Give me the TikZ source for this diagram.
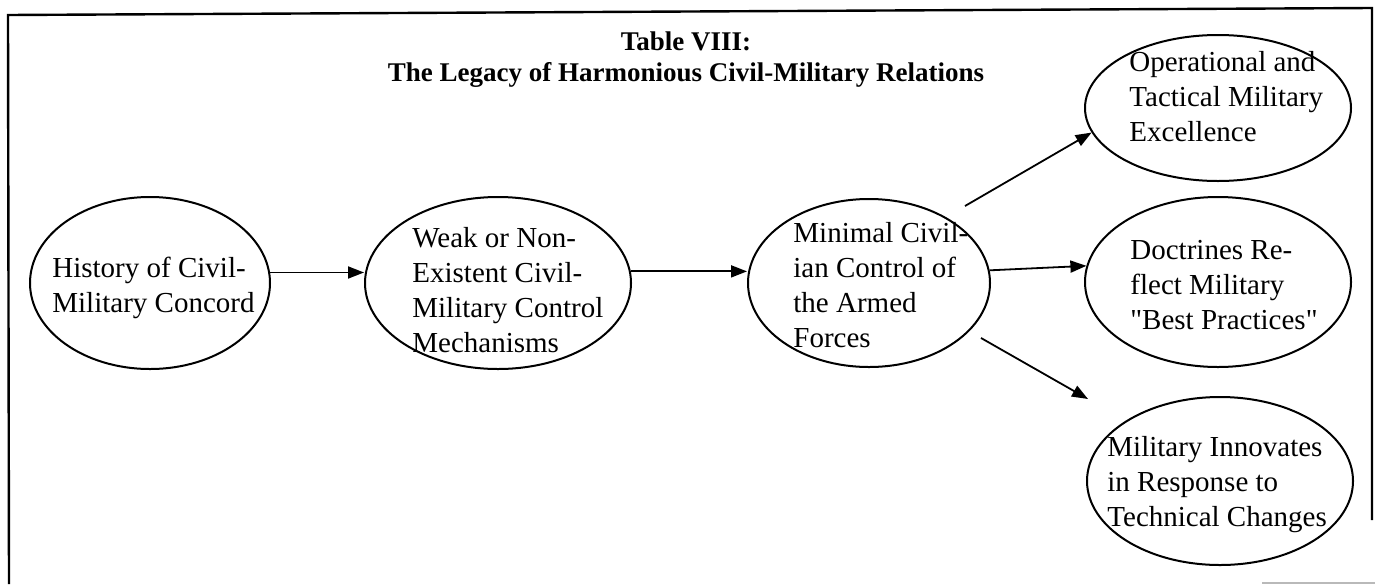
\documentclass[tikz,border=0pt]{standalone}
\usepackage{fontspec}
\setmainfont{Liberation Serif}
% same face without the TeX mapping, for straight double quotes
\newfontfamily\straightq{Liberation Serif}
\usetikzlibrary{arrows.meta,shapes.geometric}
\newcommand{\sq}{{\straightq\symbol{34}}}
\begin{document}
\begin{tikzpicture}[x=0.5pt,y=-0.5pt,
  oval/.style 2 args={draw,ellipse,line width=1pt,inner sep=0pt,
    minimum width=#1,minimum height=#2},
  txt/.style={align=left,anchor=north west,inner sep=0pt,
    font=\fontsize{14.5}{17.5}\selectfont},
  ttl/.style={align=center,anchor=north,inner sep=0pt,
    font=\fontsize{13.5}{15.5}\selectfont\bfseries},
  arr/.style={-{Triangle[length=8pt,width=6pt]},line width=0.9pt},
  frame/.style={line width=1.2pt}]
\useasboundingbox (0,0) rectangle (1375,584);

% outer frame
\draw[frame] (9,584) -- (8,15) -- (1372,8) -- (1372,520);
\draw[gray!55,line width=0.8pt] (1262,583) -- (1375,583);

% title
\node[ttl] (title) at (686,28) {\strut Table VIII:\\The Legacy of Harmonious Civil-Military Relations};

% ellipses
\node[oval={120pt}{86pt}] (hist) at (150,283) {};
\node[oval={133pt}{86pt}] (weak) at (498,283) {};
\node[oval={121pt}{84pt}] (min)  at (869,283) {};
\node[oval={133pt}{73pt}] (op)   at (1218,108) {};
\node[oval={133pt}{85pt}] (doc)  at (1218,282) {};
\node[oval={133pt}{84pt}] (inn)  at (1220,481) {};

% texts inside the ellipses
\node[txt] (histT) at (52,253) {\strut History of Civil-\\Military Concord};
\node[txt] (weakT) at (412,223) {\strut Weak or Non-\\Existent Civil-\\Military Control\\Mechanisms};
\node[txt] (minT)  at (793,218) {\strut Minimal Civil-\\ian Control of\\the Armed\\Forces};
\node[txt] (opT)   at (1129,47) {\strut Operational and\\Tactical Military\\Excellence};
\node[txt] (docT)  at (1130,235) {\strut Doctrines Re-\\flect Military\\\sq Best Practices\sq};
\node[txt] (innT)  at (1107,432) {\strut Military Innovates\\in Response to\\Technical Changes};

% connectors
\draw[arr] (hist.5) -- (hist.5 -| weak.west);
\draw[arr] (weak.5) -- (weak.5 -| min.west);
\coordinate (opTail) at (965,206);
\draw[arr] (opTail) -- (op.191);
\draw[arr] (min.6) -- (doc.173);
\coordinate (innTail) at (981,338);
\coordinate (innTip) at (1088,399);
\draw[arr] (innTail) -- (innTip);
\end{tikzpicture}
\end{document}
